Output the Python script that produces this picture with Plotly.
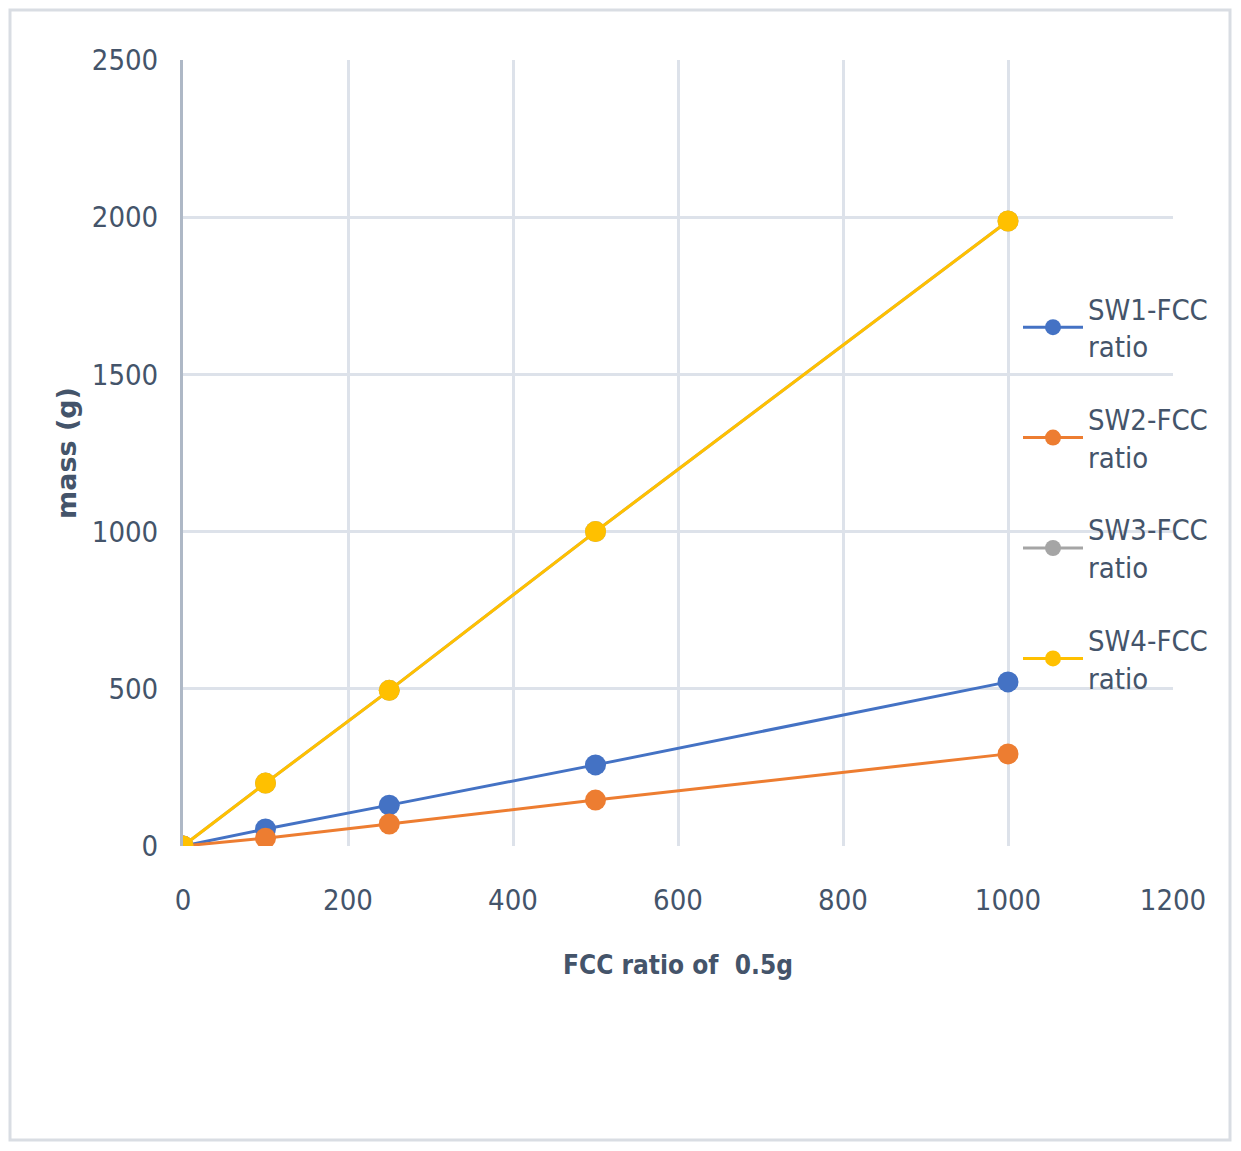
import plotly.graph_objects as go

x_vals = [0, 100, 250, 500, 1000]
sw1 = [0, 54, 130, 258, 522]
sw2 = [0, 25, 70, 146, 293]
sw3 = [0, 200, 495, 1000, 1988]
sw4 = [0, 200, 495, 1000, 1988]
names = ["SW1-FCC<br>ratio", "SW2-FCC<br>ratio", "SW3-FCC<br>ratio", "SW4-FCC<br>ratio"]
colors = ["#4472C4", "#ED7D31", "#A5A5A5", "#FFC000"]
x_ticks = [0, 200, 400, 600, 800, 1000, 1200]
y_ticks = [0, 500, 1000, 1500, 2000, 2500]

NARROW = "Liberation Sans Narrow, DejaVu Sans Condensed, Arial Narrow, sans-serif"
TXT = "#44546A"

fig = go.Figure()
for i, (ys, nm, c) in enumerate(zip([sw1, sw2, sw3, sw4], names, colors)):
    fig.add_trace(go.Scatter(
        x=x_vals, y=ys, name=nm, mode="lines+markers",
        line=dict(color=c, width=3),
        marker=dict(color=c, size=21),
        legendgroup=f"g{i}",
    ))

# page body has an 8px margin, so figure coordinates are page coordinates - 8
OFF = 8
W, H = 1241 - 2 * OFF, 1151 - 2 * OFF
L, R, T, B = 183 - OFF, 1173 - OFF, 60 - OFF, 846 - OFF
pw, ph = R - L, B - T

def px_x(p):
    return (p - OFF - L) / pw

def px_y(p):
    return (B - (p - OFF)) / ph

fig.update_layout(
    width=W, height=H,
    margin=dict(l=L, r=W - R, t=T, b=H - B, pad=0),
    paper_bgcolor="white", plot_bgcolor="white",
    font=dict(family=NARROW, size=29, color=TXT),
    showlegend=True,
    legend=dict(
        x=px_x(1018), y=px_y(283), xanchor="left", yanchor="top",
        bgcolor="rgba(0,0,0,0)", borderwidth=0,
        font=dict(family=NARROW, size=29, color=TXT),
        tracegroupgap=32, traceorder="grouped", itemwidth=60,
    ),
    xaxis=dict(
        range=[0, 1200], tickvals=x_ticks, ticktext=[str(v) for v in x_ticks],
        showgrid=True, gridcolor="#DDE2EA", gridwidth=3,
        zeroline=False, showline=False,
        ticks="outside", ticklen=28, tickcolor="rgba(0,0,0,0)",
        tickfont=dict(family=NARROW, size=29, color=TXT),
        title=dict(text="<b>FCC ratio of  0.5g</b>", standoff=40,
                   font=dict(family=NARROW, size=26, color=TXT)),
        fixedrange=True,
    ),
    yaxis=dict(
        range=[0, 2500], tickvals=y_ticks, ticktext=[str(v) for v in y_ticks],
        showgrid=True, gridcolor="#DDE2EA", gridwidth=3,
        zeroline=False, showline=True, linecolor="#AEB8C6", linewidth=3,
        ticks="outside", ticklen=16, tickcolor="rgba(0,0,0,0)",
        tickfont=dict(family=NARROW, size=29, color=TXT),
        title=dict(text="<b>mass (g)</b>", standoff=8,
                   font=dict(family="DejaVu Sans, sans-serif", size=27, color=TXT)),
        fixedrange=True,
    ),
    shapes=[dict(
        type="rect", xref="paper", yref="paper",
        x0=px_x(10), x1=px_x(1230), y0=px_y(1140), y1=px_y(10),
        line=dict(color="#D9DDE3", width=3), fillcolor="rgba(0,0,0,0)", layer="below",
    )],
)

fig.write_html("out.html")
